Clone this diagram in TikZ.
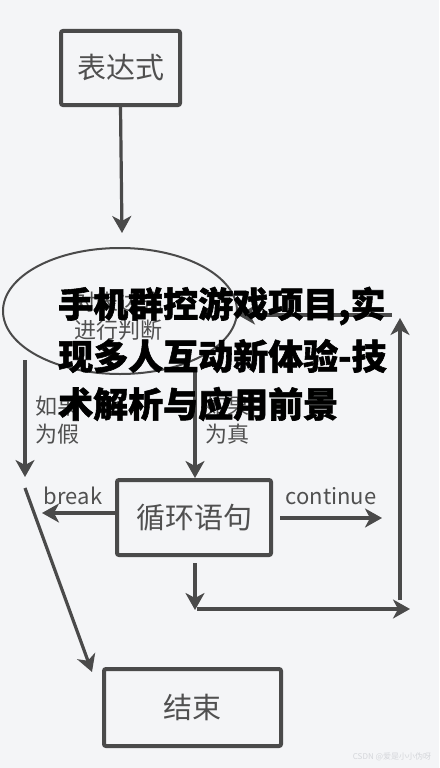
\documentclass[tikz,border=0pt]{standalone}
\usepackage{fontspec}
\setmainfont{Noto Sans CJK SC}
\newfontfamily\ttlfont{Noto Sans CJK SC}[BoldFeatures={FakeBold=1.6}]
\usetikzlibrary{shapes.geometric,arrows.meta}
\definecolor{bg}{HTML}{F4F5F7}
\definecolor{ink}{HTML}{4A4A4A}
\definecolor{txt}{HTML}{505050}
\definecolor{wm}{HTML}{D4D6DA}
\tikzset{
  boxnode/.style={draw=ink, line width=4pt, rounded corners=2pt, inner sep=0pt, text=txt, font=\fontsize{29}{32}\selectfont},
  lbl/.style={text=txt, font=\fontsize{22}{28}\selectfont, inner sep=0pt, align=center},
  arr/.style={draw=ink, line width=3.2pt, -{Stealth[length=17pt,width=19pt,inset=5pt]}},
  ttl/.style={font=\ttlfont\fontsize{35}{40}\selectfont\bfseries, text=black, inner sep=0pt, anchor=west}
}
\begin{document}
\begin{tikzpicture}[x=1pt,y=-1pt]
\fill[bg] (0,0) rectangle (439,768);
\useasboundingbox (0,0) rectangle (439,768);

\node[boxnode, minimum width=119pt, minimum height=74pt] (expr) at (120.5,68) {表达式};
\node[draw=ink, line width=2pt, ellipse, minimum width=234pt, minimum height=126pt, inner sep=0pt] (cond) at (120,311) {};
\node[lbl, align=center] (condtxt) at (118,316) {对表达式\\进行判断};
\node[boxnode, minimum width=154pt, minimum height=75pt] (loop) at (194,517.5) {循环语句};
\node[boxnode, minimum width=177pt, minimum height=77pt] (end) at (192.5,707.5) {结束};

\node[lbl] (falsel) at (57,420) {如果\\为假};
\node[lbl] (truel) at (227,420) {如果\\为真};
\node[lbl, anchor=base] (brk) at (73,504) {break};
\node[lbl, anchor=base] (cont) at (331,504) {continue};

\coordinate (a1) at (122,233);
\coordinate (lf1) at (25,360);
\coordinate (lf2) at (25,477);
\coordinate (ct1) at (195,370);
\coordinate (br2) at (42,513);
\coordinate (co1) at (280,518);
\coordinate (co2) at (382,518);
\coordinate (dn2) at (195,610);
\coordinate (h1) at (197,609);
\coordinate (h2) at (410,609);
\coordinate (v1) at (400,600);
\coordinate (v2) at (400,318);
\coordinate (t1) at (392,315);
\coordinate (d1) at (25,488);
\coordinate (d2) at (92,672);

\draw[arr] (expr.south) -- (a1);
\draw[arr] (lf1) -- (lf2);
\draw[arr] (ct1) -- (loop.north -| ct1);
\draw[arr] (loop.west |- br2) -- (br2);
\draw[arr] (co1) -- (co2);
\draw[arr] (loop.south -| dn2) ++(0,6) -- (dn2);
\draw[arr] (h1) -- (h2);
\draw[arr] (v1) -- (v2);
\draw[arr] (t1) -- (cond.east |- t1);
\draw[arr] (d1) -- (d2);

\node[ttl] (title1) at (58,306) {手机群控游戏项目,实};
\node[ttl] (title2) at (58,356) {现多人互动新体验-技};
\node[ttl] (title3) at (58,404) {术解析与应用前景};

\node[text=wm, font=\fontsize{8}{9}\selectfont, inner sep=0pt] (wmark) at (392,757) {CSDN @爱是小小伪呀};
\end{tikzpicture}
\end{document}
